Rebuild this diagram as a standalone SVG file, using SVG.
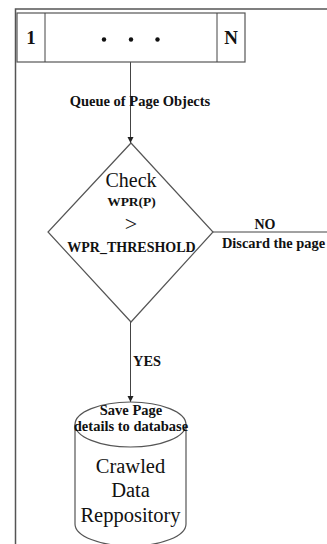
<svg xmlns="http://www.w3.org/2000/svg" width="327" height="544" viewBox="0 0 327 544">
<style>
.ln{stroke:#444;stroke-width:1;fill:none}
.sh{stroke:#555;stroke-width:1.2;fill:#fff}
.t{font-family:'Liberation Serif','DejaVu Serif',serif;fill:#111;text-anchor:middle}
.b{font-weight:bold}
</style>
<defs>
<marker id="ah" markerWidth="8" markerHeight="8" refX="6" refY="3" orient="auto" markerUnits="userSpaceOnUse">
<path d="M0,0 L6,3 L0,6 Z" fill="#222"/>
</marker>
</defs>
<rect width="327" height="544" fill="#fff"/>
<g id="frame">
<path d="M15.5,544 V9 H327" stroke="#555" stroke-width="1.5" fill="none"/>
</g>
<g id="connectors">
<line class="ln" x1="130.5" y1="62" x2="130.5" y2="143" marker-end="url(#ah)"/>
<line class="ln" x1="213" y1="232" x2="327" y2="232"/>
<line class="ln" x1="130.5" y1="322" x2="130.5" y2="402" marker-end="url(#ah)"/>
<text class="t b" x="140" y="106" font-size="14.5">Queue of Page Objects</text>
<text class="t b" x="265" y="229" font-size="14">NO</text>
<text class="t b" x="273.5" y="248" font-size="14.4">Discard the page</text>
<text class="t b" x="147" y="366" font-size="14.4">YES</text>
</g>
<g id="queue">
<rect class="sh" x="17" y="13" width="228" height="49"/>
<line class="ln" x1="45" y1="13" x2="45" y2="62" stroke="#666"/>
<line class="ln" x1="217" y1="13" x2="217" y2="62" stroke="#666"/>
<text class="t b" x="31" y="44" font-size="19">1</text>
<circle cx="104" cy="39.5" r="2.2" fill="#111"/>
<circle cx="131" cy="39.5" r="2.2" fill="#111"/>
<circle cx="157.5" cy="39.5" r="2.2" fill="#111"/>
<text class="t b" x="231" y="44" font-size="19">N</text>
</g>
<g id="decision">
<polygon class="sh" points="131,143 213,232 131,322 48,232"/>
<text class="t" x="131" y="187" font-size="20">Check</text>
<text class="t b" x="131.5" y="206" font-size="13.5">WPR(P)</text>
<text class="t" x="131" y="231" font-size="22">&gt;</text>
<text class="t b" x="131.5" y="252" font-size="14">WPR_THRESHOLD</text>
</g>
<g id="repository">
<path class="sh" d="M75,424.5 V524 A55.5,22 0 0 0 186,524 V424.5"/>
<ellipse class="sh" cx="130.5" cy="424.5" rx="55.5" ry="22.5"/>
<text class="t b" x="131" y="415" font-size="14.5">Save Page</text>
<text class="t b" x="131" y="431" font-size="14.5">details to database</text>
<text class="t" x="130.5" y="473" font-size="20.5">Crawled</text>
<text class="t" x="130.5" y="497" font-size="20.5">Data</text>
<text class="t" x="130.5" y="522" font-size="20.5">Reppository</text>
</g>
</svg>
